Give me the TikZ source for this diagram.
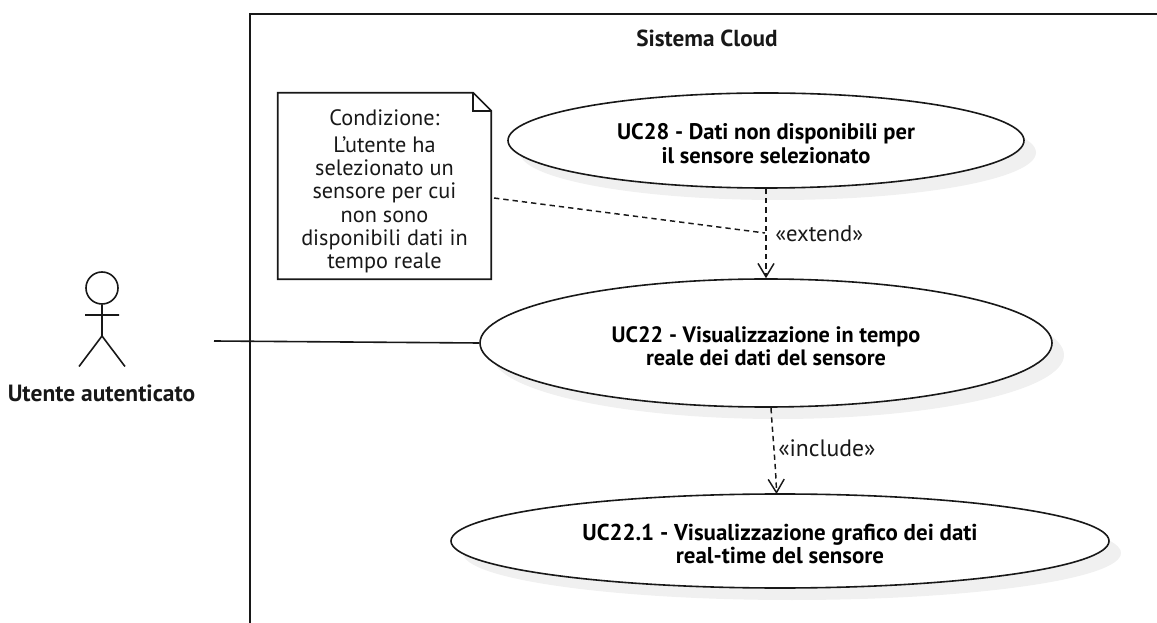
\documentclass[tikz,border=0pt]{standalone}
\usepackage{fontspec}
\setmainfont{PT Sans}
\usetikzlibrary{
    arrows.meta,
    shapes,
    shadows,
    calc
}
\definecolor{umlblack}{HTML}{181818}
\definecolor{umlshadow}{HTML}{F0F0F0}
\newcommand{\toprule}[1]{\rule{0pt}{#1}}
\tikzset{
    usecase/.style={ellipse, draw=umlblack, line width=1.2pt, fill=white, inner sep=0pt, align=center,
        font=\fontsize{#1}{17.5}\selectfont\bfseries,
        drop shadow={shadow xshift=9pt, shadow yshift=-9pt, fill=umlshadow, opacity=1}},
    umlline/.style={draw=umlblack, line width=1.2pt},
    depline/.style={draw=umlblack, line width=1.1pt, dash pattern=on 4pt off 3pt},
    deparrow/.style={depline, -{Straight Barb[length=10pt, width=12pt, line width=1.1pt]}},
    umltext/.style={inner sep=0pt, text=umlblack, font=\fontsize{#1}{17.5}\selectfont},
    umltitle/.style={inner sep=0pt, text=umlblack, font=\fontsize{#1}{17.5}\selectfont\bfseries}
}

\begin{document}
\begin{tikzpicture}[x=0.75pt, y=-0.75pt]
    \useasboundingbox (0, 0) rectangle (1157, 623);
    \clip (0, 0) rectangle (1157, 623);

    % system frame
    \node[umlline, draw, line width=1.5pt, minimum width=1000*0.75pt, minimum height=700*0.75pt, anchor=north west, inner sep=0pt] (frame) at (249, 13) {};
    \node[umltitle=17.4] (title) at (707, 38) {Sistema Cloud};

    % use cases
    \node[usecase=16.9, minimum width=516*0.75pt, minimum height=95*0.75pt] (uc28) at (766, 140.5) {\toprule{16.5pt}UC28 - Dati non disponibili per\\il sensore selezionato};
    \node[usecase=16.7, minimum width=572*0.75pt, minimum height=128*0.75pt] (uc22) at (766, 343) {\toprule{16.5pt}UC22 - Visualizzazione in tempo\\reale dei dati del sensore};
    \node[usecase=17.2, minimum width=658*0.75pt, minimum height=94*0.75pt] (uc221) at (780, 541) {\toprule{16.5pt}UC22.1 - Visualizzazione grafico dei dati\\real-time del sensore};

    % note
    \node[umltext=16.7, minimum width=213*0.75pt, minimum height=186*0.75pt, align=center] (note) at (384.5, 186) {\toprule{20pt}Condizione:\\[2.5pt]L'utente ha\\selezionato un\\sensore per cui\\non sono\\disponibili dati in\\tempo reale};
    \draw[umlline] (note.north west) -- ($(note.north east)+(-18, 0)$) -- ($(note.north east)+(0, 18)$) -- (note.south east) -- (note.south west) -- cycle;
    \draw[umlline] ($(note.north east)+(-18, 0)$) -- ($(note.north east)+(-18, 18)$) -- ($(note.north east)+(0, 18)$);

    % actor
    \node[circle, umlline, draw, minimum size=32*0.75pt, inner sep=0pt] (head) at (102, 288) {};
    \coordinate (hip) at (102, 336);
    \coordinate (armleft) at (85, 315);
    \coordinate (armright) at (119, 315);
    \coordinate (legleft) at (79, 366.5);
    \coordinate (legright) at (125, 366.5);
    \draw[umlline]
    (head) -- (hip)
    (armleft) -- (armright)
    (legleft) -- (hip) -- (legright);
    \node[umltitle=17.6] (actor) at (101.5, 393) {Utente autenticato};

    % connectors
    \coordinate (actorlink) at (214, 341);
    \coordinate (notelink) at (494, 198);
    \coordinate (extendmid) at (765, 233);
    \coordinate (includestart) at (771, 408);
    \coordinate (includeend) at (776.5, 494);
    \draw[umlline] (actorlink) -- (uc22.west);
    \draw[deparrow] (uc28.south) -- (uc22.north);
    \draw[depline] (notelink) -- ($(extendmid)+(-4, -0.5)$) -- (extendmid);
    \draw[deparrow] (includestart) .. controls (773, 440) and (776, 470) .. (includeend);

    \node[umltext=17, anchor=west] (extendlabel) at (775, 234) {«extend»};
    \node[umltext=17.8, anchor=west] (includelabel) at (778, 448) {«include»};
\end{tikzpicture}
\end{document}
